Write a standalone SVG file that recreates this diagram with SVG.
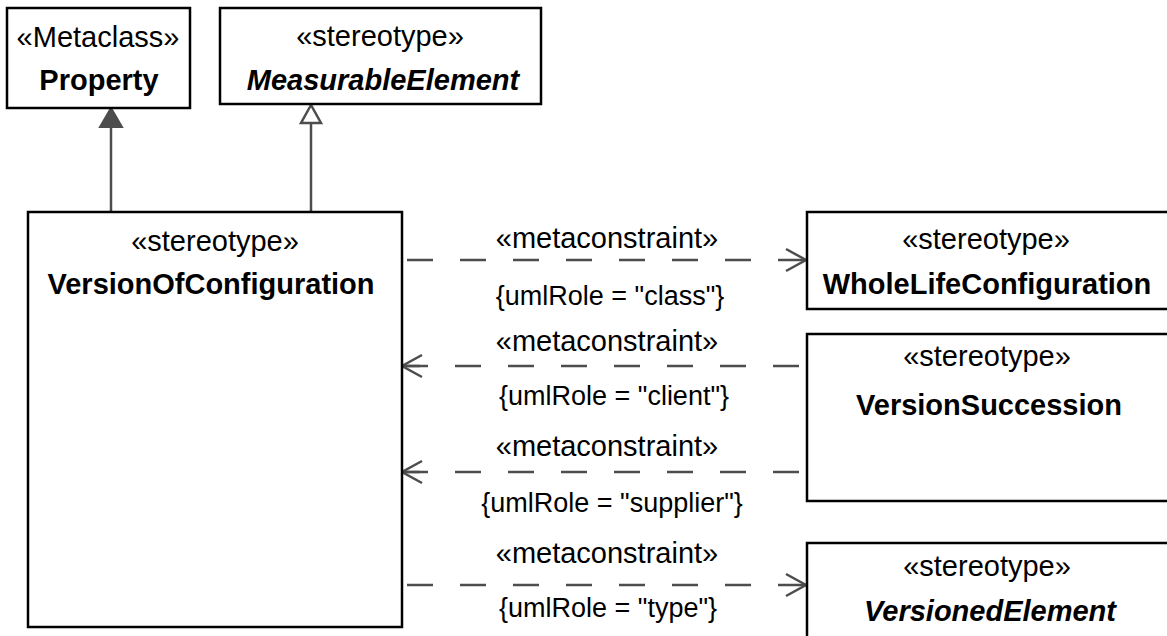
<svg xmlns="http://www.w3.org/2000/svg" width="1167" height="636" viewBox="0 0 1167 636">
<style>
.box{fill:#fff;stroke:#000;stroke-width:2.5}
.t{font-family:"Liberation Sans",Arial,sans-serif;font-size:29px;fill:#000;text-anchor:middle}
.r{font-size:27px}
.b{font-weight:bold}
.i{font-style:italic}
.conn{fill:none;stroke:#4d4d4d;stroke-width:2.5}
.dash{stroke-dasharray:26 27}
</style>
<rect width="1167" height="636" fill="#fff"/>
<g id="connectors">
  <line class="conn" x1="111" y1="212" x2="111" y2="126"/>
  <polygon points="111,108 100,127 122,127" fill="#4d4d4d" stroke="#4d4d4d" stroke-width="2"/>
  <line class="conn" x1="311" y1="212" x2="311" y2="123"/>
  <polygon points="311,105 301,123 321,123" fill="#fff" stroke="#4d4d4d" stroke-width="2.5"/>
  <g id="c1">
    <line class="conn dash" x1="407" y1="260" x2="806" y2="260"/>
    <polyline class="conn" points="786,249 806,260 786,271"/>
    <text class="t" x="607" y="248">«metaconstraint»</text>
    <text class="t r" x="610" y="305">{umlRole = "class"}</text>
  </g>
  <g id="c2">
    <line class="conn dash" x1="402" y1="366" x2="806" y2="366"/>
    <line class="conn" x1="402" y1="366" x2="420" y2="366"/>
    <polyline class="conn" points="422,355 402,366 422,377"/>
    <text class="t" x="607" y="351">«metaconstraint»</text>
    <text class="t r" x="614" y="405">{umlRole = "client"}</text>
  </g>
  <g id="c3">
    <line class="conn dash" x1="402" y1="472" x2="806" y2="472"/>
    <line class="conn" x1="402" y1="472" x2="420" y2="472"/>
    <polyline class="conn" points="422,461 402,472 422,483"/>
    <text class="t" x="607" y="456">«metaconstraint»</text>
    <text class="t r" x="612" y="512">{umlRole = "supplier"}</text>
  </g>
  <g id="c4">
    <line class="conn dash" x1="407" y1="585" x2="806" y2="585"/>
    <polyline class="conn" points="786,574 806,585 786,596"/>
    <text class="t" x="607" y="563">«metaconstraint»</text>
    <text class="t r" x="608" y="617">{umlRole = "type"}</text>
  </g>
</g>
<g id="Property">
  <rect class="box" x="7" y="8" width="183" height="100"/>
  <text class="t" x="98" y="47">«Metaclass»</text>
  <text class="t b" x="99" y="90">Property</text>
</g>
<g id="MeasurableElement">
  <rect class="box" x="220" y="8" width="321" height="96"/>
  <text class="t" x="380" y="46">«stereotype»</text>
  <text class="t b i" x="383" y="90">MeasurableElement</text>
</g>
<g id="VersionOfConfiguration">
  <rect class="box" x="28" y="212" width="374" height="415"/>
  <text class="t" x="215" y="251">«stereotype»</text>
  <text class="t b" x="211" y="294">VersionOfConfiguration</text>
</g>
<g id="WholeLifeConfiguration">
  <rect class="box" x="807" y="212" width="400" height="97"/>
  <text class="t" x="986" y="249">«stereotype»</text>
  <text class="t b" x="987" y="294">WholeLifeConfiguration</text>
</g>
<g id="VersionSuccession">
  <rect class="box" x="807" y="334" width="400" height="167"/>
  <text class="t" x="987" y="366">«stereotype»</text>
  <text class="t b" x="989" y="415">VersionSuccession</text>
</g>
<g id="VersionedElement">
  <rect class="box" x="807" y="543" width="400" height="120"/>
  <text class="t" x="987" y="576">«stereotype»</text>
  <text class="t b i" x="990" y="621">VersionedElement</text>
</g>
</svg>
